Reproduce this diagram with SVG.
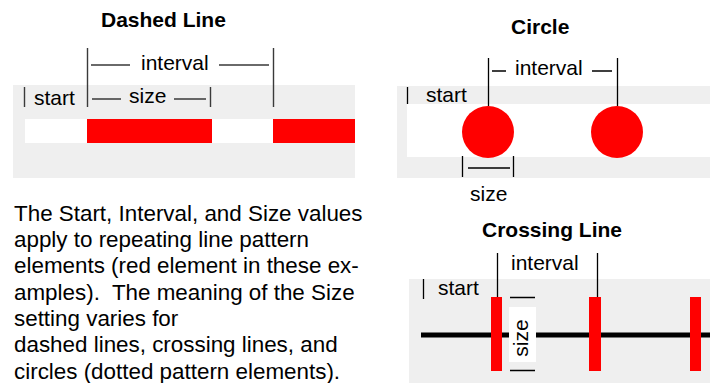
<svg xmlns="http://www.w3.org/2000/svg" width="710" height="383" viewBox="0 0 710 383">
<style>
text{font-family:"Liberation Sans",Arial,sans-serif;fill:#000}
.t{font-size:21px;font-weight:bold}
.l{font-size:21px}
.b{font-size:22.4px;white-space:pre}
.bg{fill:#efefef}
.w{fill:#fff}
.r{fill:#ff0000}
.d{stroke:#3a3a3a;stroke-width:1.4;fill:none}
.k{stroke:#000;stroke-width:1.3;fill:none}
</style>
<rect width="710" height="383" fill="#fff"/>
<g id="dashed">
<text class="t" x="101" y="27">Dashed Line</text>
<rect class="bg" x="13" y="85" width="342" height="93"/>
<rect class="w" x="25" y="119" width="62" height="24"/>
<rect class="r" x="87" y="119" width="125" height="24"/>
<rect class="w" x="212" y="119" width="61" height="24"/>
<rect class="r" x="273" y="119" width="82" height="24"/>
<path class="d" d="M87.5 48V107M273.5 48V107M210.5 87V107M24.5 87V107M91 65H130M219 65H269M92 99H121M174 99H206"/>
<text class="l" x="141" y="70">interval</text>
<text class="l" x="34" y="105">start</text>
<text class="l" x="129" y="103">size</text>
</g>
<g id="circle">
<text class="t" x="511" y="34">Circle</text>
<rect class="bg" x="397" y="86" width="313" height="92"/>
<rect class="w" x="407" y="104" width="303" height="53"/>
<circle class="r" cx="488" cy="132" r="26"/>
<circle class="r" cx="617" cy="132" r="26"/>
<path class="k" d="M407.5 87V104M488.5 58V106M617.5 58V106M492 71H506M592 71H612M462.5 156V177M513.5 156V177M468 168H510"/>
<text class="l" x="426" y="102">start</text>
<text class="l" x="515" y="75">interval</text>
<text class="l" x="470" y="201">size</text>
</g>
<g id="crossing">
<text class="t" x="482" y="237">Crossing Line</text>
<rect class="bg" x="409" y="279" width="301" height="104"/>
<path d="M421 335H710" stroke="#000" stroke-width="5"/>
<rect class="r" x="491" y="297" width="11" height="74"/>
<rect class="r" x="589" y="297" width="12" height="74"/>
<rect class="r" x="690" y="297" width="11" height="74"/>
<rect class="w" x="509" y="307" width="27" height="55"/>
<path class="k" d="M497.5 253V297M597.5 253V297M423.5 279V299M510 297.5H535M510 370.5H535"/>
<text class="l" x="511" y="270">interval</text>
<text class="l" x="438" y="295">start</text>
<text class="l" transform="translate(528,338) rotate(-90)" text-anchor="middle">size</text>
</g>
<g id="description">
<text class="b" x="14" y="221">The Start, Interval, and Size values</text>
<text class="b" x="14" y="247">apply to repeating line pattern</text>
<text class="b" x="14" y="273">elements (red element in these ex-</text>
<text class="b" x="14" y="300">amples).  The meaning of the Size</text>
<text class="b" x="14" y="326">setting varies for</text>
<text class="b" x="14" y="352">dashed lines, crossing lines, and</text>
<text class="b" x="14" y="379">circles (dotted pattern elements).</text>
</g>
<g id="connectors"></g>
</svg>
